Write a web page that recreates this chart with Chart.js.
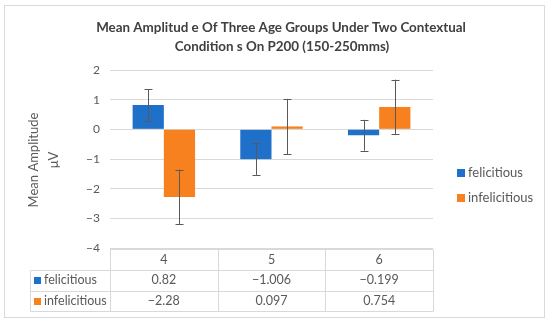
<!DOCTYPE html>
<html><head><meta charset="utf-8">
<script src="https://cdn.jsdelivr.net/npm/chart.js@4/dist/chart.umd.min.js"></script>
<style>html,body{margin:0;padding:0;background:#fff;}#wrap{width:550px;height:325px;}</style>
</head><body><div id="wrap"><canvas id="c" width="550" height="325"></canvas></div>
<script>
const categories = ['4', '5', '6'];
const seriesNames = ['felicitious', 'infelicitious'];
const felicitious = [0.82, -1.006, -0.199];
const infelicitious = [-2.28, 0.097, 0.754];
const felicitiousErr = [0.54, 0.53, 0.52];
const infelicitiousErr = [0.92, 0.93, 0.92];
const tableText = [['0.82', '\u22121.006', '\u22120.199'], ['\u22122.28', '0.097', '0.754']];
const titleLines = ['Mean Amplitud e Of Three Age Groups Under Two Contextual', 'Condition s On P200 (150-250mms)'];
const yTitleLines = ['Mean Amplitude', '\u03bcV'];

const BLUE = '#1f70c8', ORANGE = '#f7811f';
const FONT = 'Lato, "Open Sans", sans-serif';
const TXT = '#595959', GRID = '#d9d9d9';

const extras = {
  id: 'extras',
  afterDatasetsDraw(chart) {
    const ctx = chart.ctx, y = chart.scales.y;
    const errs = [felicitiousErr, infelicitiousErr];
    ctx.save();
    ctx.strokeStyle = '#595959'; ctx.lineWidth = 1;
    chart.data.datasets.forEach((ds, di) => {
      const meta = chart.getDatasetMeta(di);
      meta.data.forEach((bar, i) => {
        const v = ds.data[i], e = errs[di][i];
        const x = Math.round(bar.x) + 0.5;
        const y1 = y.getPixelForValue(v + e), y2 = y.getPixelForValue(v - e);
        ctx.beginPath();
        ctx.moveTo(x, y1); ctx.lineTo(x, y2);
        ctx.moveTo(x - 4, Math.round(y1) + 0.5); ctx.lineTo(x + 4, Math.round(y1) + 0.5);
        ctx.moveTo(x - 4, Math.round(y2) + 0.5); ctx.lineTo(x + 4, Math.round(y2) + 0.5);
        ctx.stroke();
      });
    });
    ctx.restore();
  },
  afterDraw(chart) {
    const ctx = chart.ctx, ca = chart.chartArea, xs = chart.scales.x;
    ctx.save();
    ctx.strokeStyle = GRID; ctx.lineWidth = 1;
    ctx.strokeRect(4.5, 5.5, 540, 312);
    ctx.fillStyle = '#404040';
    ctx.font = 'bold 13.4px ' + FONT;
    ctx.textAlign = 'center'; ctx.textBaseline = 'middle';
    ctx.fillText(titleLines[0], 281, 28);
    ctx.fillText(titleLines[1], 282, 47);
    ctx.save();
    ctx.fillStyle = TXT; ctx.font = '13px ' + FONT;
    ctx.translate(34, 160); ctx.rotate(-Math.PI / 2);
    ctx.fillText(yTitleLines[0], 0, 0);
    ctx.restore();
    ctx.save();
    ctx.fillStyle = TXT; ctx.font = '13px ' + FONT;
    ctx.translate(54, 160); ctx.rotate(-Math.PI / 2);
    ctx.fillText(yTitleLines[1], 0, 0);
    ctx.restore();
    const left = ca.left, right = ca.right;
    const n = categories.length, cw = (right - left) / n;
    const top = Math.round(ca.bottom) + 1.5, rh = 20.5;
    const labLeft = 30.5;
    ctx.strokeStyle = GRID; ctx.lineWidth = 1;
    ctx.beginPath();
    ctx.moveTo(left, top); ctx.lineTo(right, top);
    for (let r = 1; r <= 3; r++) {
      const yy = Math.round(top + rh * r) + 0.5;
      ctx.moveTo(labLeft, yy); ctx.lineTo(right, yy);
    }
    for (let c = 0; c <= n; c++) {
      const xx = Math.round(left + cw * c) + 0.5;
      ctx.moveTo(xx, top); ctx.lineTo(xx, Math.round(top + rh * 3) + 0.5);
    }
    ctx.moveTo(labLeft, Math.round(top + rh) + 0.5); ctx.lineTo(labLeft, Math.round(top + rh * 3) + 0.5);
    ctx.stroke();
    ctx.fillStyle = TXT; ctx.font = '12.5px ' + FONT;
    ctx.textAlign = 'center'; ctx.textBaseline = 'middle';
    categories.forEach((c, i) => ctx.fillText(c, xs.getPixelForValue(i), top + rh / 2));
    const cols = [BLUE, ORANGE];
    tableText.forEach((row, r) => {
      const yc = top + rh * (r + 1) + rh / 2;
      row.forEach((t, i) => { ctx.fillStyle = TXT; ctx.textAlign = 'center'; ctx.fillText(t, xs.getPixelForValue(i), yc); });
      ctx.fillStyle = cols[r];
      ctx.fillRect(34, Math.round(yc) - 3, 7, 7);
      ctx.fillStyle = TXT; ctx.textAlign = 'left';
      ctx.fillText(seriesNames[r], 44, yc);
    });
    ctx.font = '13px ' + FONT;
    seriesNames.forEach((s, r) => {
      const yc = 173 + r * 25;
      ctx.fillStyle = cols[r];
      ctx.fillRect(457, yc - 4, 8, 8);
      ctx.fillStyle = TXT; ctx.textAlign = 'left';
      ctx.fillText(s, 468, yc);
    });
    ctx.restore();
  }
};

new Chart(document.getElementById('c'), {
  type: 'bar',
  data: {
    labels: categories,
    datasets: [
      { label: seriesNames[0], data: felicitious, backgroundColor: BLUE },
      { label: seriesNames[1], data: infelicitious, backgroundColor: ORANGE }
    ]
  },
  options: {
    responsive: false,
    animation: false,
    devicePixelRatio: 1,
    layout: { padding: { left: 0, top: 70, right: 117, bottom: 77 } },
    datasets: { bar: { categoryPercentage: 0.58, barPercentage: 1 } },
    plugins: { legend: { display: false }, title: { display: false }, tooltip: { enabled: false } },
    scales: {
      x: { display: false },
      y: {
        min: -4, max: 2,
        ticks: { stepSize: 1, color: TXT, font: { family: FONT, size: 12 }, padding: 10,
          callback: v => (v < 0 ? '\u2212' + Math.abs(v) : String(v)) },
        grid: { color: GRID, drawTicks: false },
        border: { display: false },
        afterFit: s => { s.width = 110; }
      }
    }
  },
  plugins: [extras]
});
</script>
</body></html>
